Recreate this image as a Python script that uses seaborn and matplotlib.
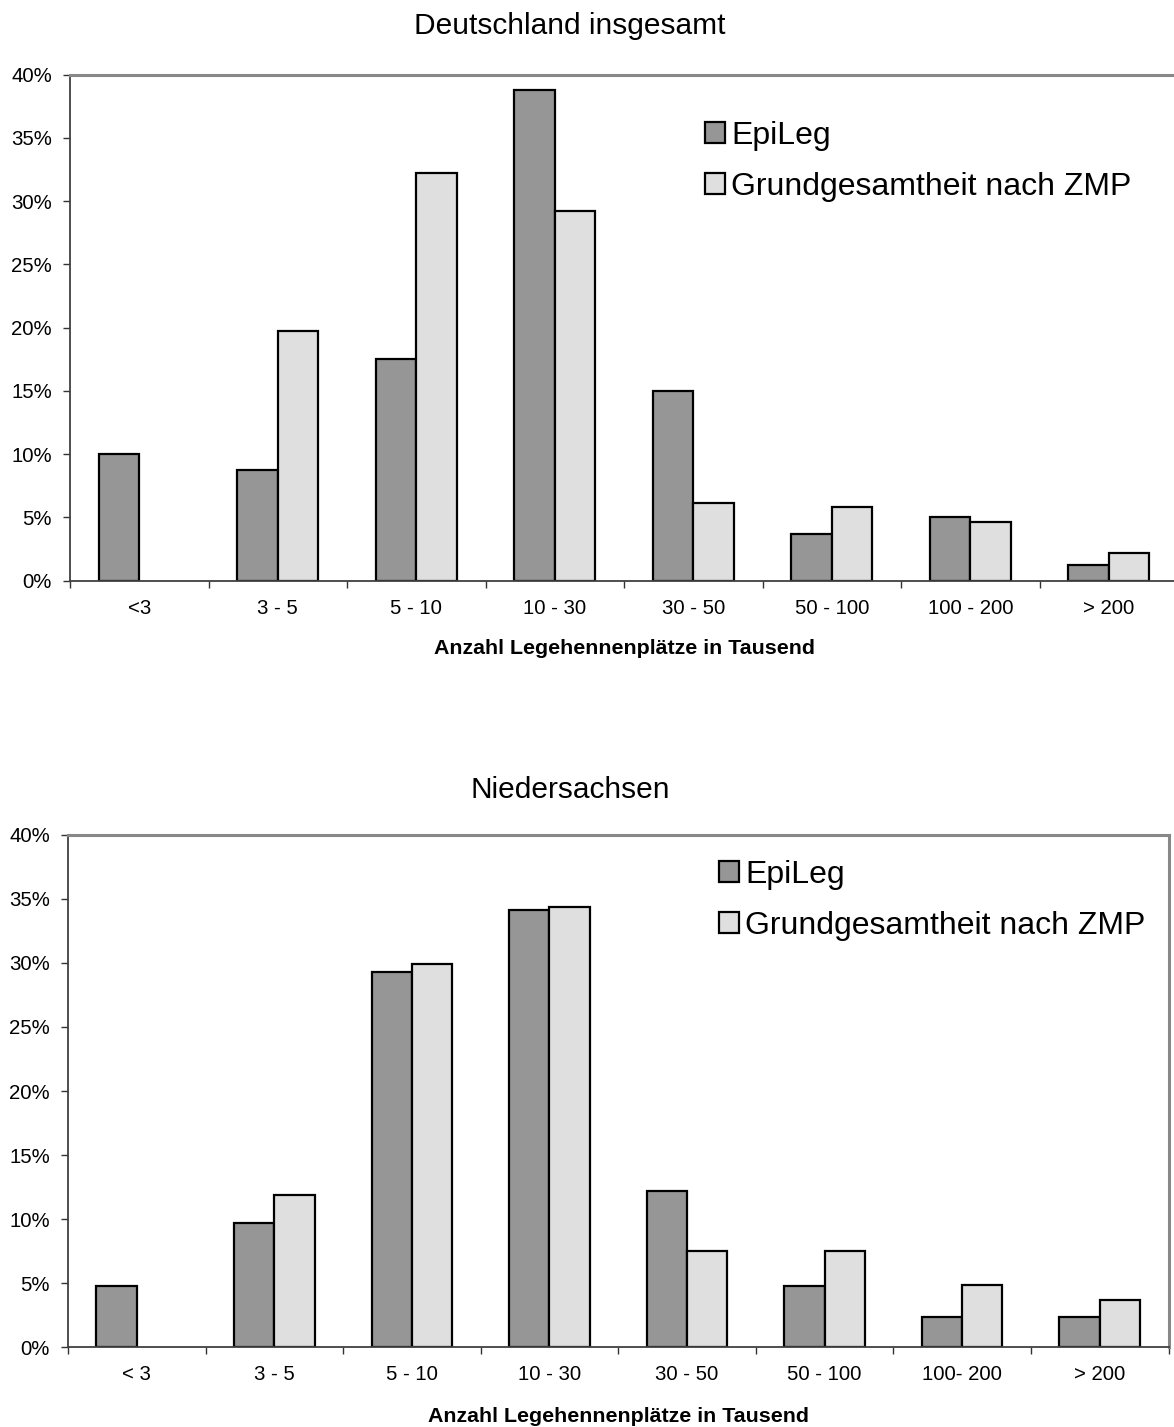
import numpy as np
import pandas as pd
import matplotlib
matplotlib.use("Agg")
import matplotlib.pyplot as plt
from matplotlib.ticker import FixedLocator, FuncFormatter
import seaborn as sns

# ---------------- data ----------------
series_names = ["EpiLeg", "Grundgesamtheit nach ZMP"]

de_title = "Deutschland insgesamt"
de_categories = ["<3", "3 - 5", "5 - 10", "10 - 30", "30 - 50", "50 - 100", "100 - 200", "> 200"]
de_epileg = [10.0, 8.7, 17.5, 38.8, 15.0, 3.7, 5.0, 1.2]
de_zmp = [None, 19.7, 32.2, 29.2, 6.1, 5.8, 4.6, 2.2]

ns_title = "Niedersachsen"
ns_categories = ["< 3", "3 - 5", "5 - 10", "10 - 30", "30 - 50", "50 - 100", "100- 200", "> 200"]
ns_epileg = [4.8, 9.7, 29.3, 34.1, 12.2, 4.8, 2.4, 2.4]
ns_zmp = [None, 11.9, 29.9, 34.4, 7.5, 7.5, 4.9, 3.7]

x_label = "Anzahl Legehennenplätze in Tausend"
y_ticks = [0, 5, 10, 15, 20, 25, 30, 35, 40]

colors = {"EpiLeg": "#969696", "Grundgesamtheit nach ZMP": "#dfdfdf"}

# ---------------- style ----------------
sns.set_style("white")
plt.rcParams["font.family"] = ["Liberation Sans", "DejaVu Sans"]
plt.rcParams["text.color"] = "black"
plt.rcParams["axes.labelcolor"] = "black"

W, H = 1174, 1427
fig = plt.figure(figsize=(W / 100, H / 100), dpi=100)


def make_df(cats, a, b):
    rows = []
    for c, v in zip(cats, a):
        if v is not None:
            rows.append({"Kategorie": c, "Serie": series_names[0], "Anteil": v})
    for c, v in zip(cats, b):
        if v is not None:
            rows.append({"Kategorie": c, "Serie": series_names[1], "Anteil": v})
    return pd.DataFrame(rows)


def px_axes(left, right, top, bottom):
    return [left / W, 1 - bottom / H, (right - left) / W, (bottom - top) / H]


def draw(ax, cats, a, b, title, title_y, leg_x, leg_y, show_right, xlabel_y, axis_top, axis_bottom):
    df = make_df(cats, a, b)
    sns.barplot(data=df, x="Kategorie", y="Anteil", hue="Serie",
                order=cats, hue_order=series_names, palette=colors,
                width=0.586, edgecolor="black", linewidth=1.6,
                saturation=1, errorbar=None, ax=ax)
    ax.set_xlim(-0.5, len(cats) - 0.5)
    ax.set_ylim(0, 40)
    ax.yaxis.set_major_locator(FixedLocator(y_ticks))
    ax.yaxis.set_major_formatter(FuncFormatter(lambda v, p: f"{v:.0f}%"))
    ax.set_xticks(np.arange(-0.5, len(cats), 1.0), minor=True)
    ax.tick_params(axis="x", which="major", length=0, pad=13, labelsize=14.7, labelcolor="black")
    ax.tick_params(axis="x", which="minor", length=5, width=1.0, direction="out",
                   color="#333333", bottom=True)
    ax.tick_params(axis="y", which="major", length=5, width=1.0, direction="out",
                   pad=8, labelsize=14.7, color="#333333", left=True, labelcolor="black")
    ax.set_ylabel("")
    ax.set_xlabel(x_label, fontsize=15.4, fontweight="bold", va="center", color="black")
    ax.xaxis.set_label_coords(0.5, -(xlabel_y - axis_bottom) / (axis_bottom - axis_top))
    for s in ["left", "bottom"]:
        ax.spines[s].set_color("#404040")
        ax.spines[s].set_linewidth(1.3)
    ax.spines["top"].set_color("#888888")
    ax.spines["top"].set_linewidth(2.2)
    ax.spines["right"].set_color("#888888")
    ax.spines["right"].set_linewidth(2.2)
    ax.spines["right"].set_visible(show_right)
    ax.grid(False)
    fig.text(570 / W, 1 - title_y / H, title, ha="center", va="center", fontsize=21.5, color="black")
    handles, labels = ax.get_legend_handles_labels()
    ax.legend(handles, labels, loc="upper left",
              bbox_to_anchor=(leg_x / W, 1 - leg_y / H), bbox_transform=fig.transFigure,
              frameon=False, fontsize=23, handlelength=0.62, handleheight=0.62,
              handletextpad=0.2, labelspacing=0.66, borderpad=0, borderaxespad=0)


t1, b1 = 74.7, 580.5
ax1 = fig.add_axes(px_axes(70, 1178, t1, b1))
draw(ax1, de_categories, de_epileg, de_zmp, de_title, 26, 705, 121, False, 648, t1, b1)

t2, b2 = 834.8, 1347.3
ax2 = fig.add_axes(px_axes(68, 1168.5, t2, b2))
draw(ax2, ns_categories, ns_epileg, ns_zmp, ns_title, 790, 719, 860, True, 1416, t2, b2)

fig.savefig("out.png", dpi=100, facecolor="white")
